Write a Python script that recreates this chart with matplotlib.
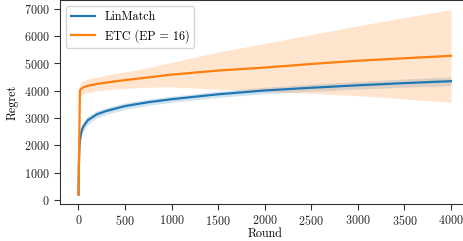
import matplotlib
matplotlib.use("Agg")
import matplotlib.pyplot as plt
import numpy as np

plt.rcParams['font.family'] = ['cmr10', 'DejaVu Serif']
plt.rcParams['mathtext.fontset'] = 'cm'
plt.rcParams['axes.formatter.use_mathtext'] = True
plt.rcParams['font.size'] = 8.7

# LinMatch (mean and spread)
lin_x = np.array([1, 5, 10, 16, 30, 50, 100, 200, 300, 500, 750, 1000, 1500, 2000, 2500, 3000, 3500, 4000])
lin_mean = np.array([200, 1300, 1950, 2200, 2480, 2680, 2920, 3140, 3260, 3440, 3580, 3690, 3870, 4010, 4110, 4200, 4280, 4350])
lin_std = np.array([0, 150, 200, 200, 180, 170, 150, 130, 125, 120, 115, 110, 115, 120, 130, 140, 150, 160])

# ETC (EP = 16)
etc_x = np.array([1, 16, 20, 50, 100, 200, 300, 500, 750, 1000, 1500, 2000, 2500, 3000, 3500, 4000])
etc_mean = np.array([200, 4000, 4040, 4120, 4180, 4250, 4300, 4390, 4490, 4590, 4740, 4850, 4980, 5100, 5190, 5280])
etc_std = np.array([0, 230, 235, 240, 245, 255, 270, 300, 360, 450, 680, 880, 1080, 1280, 1490, 1700])

fig = plt.figure(figsize=(4.64, 2.41), dpi=100)
ax = fig.add_axes([0.1289, 0.1544, 0.8832, 0.8452])

ax.plot(lin_x, lin_mean, color='#1f77b4', lw=1.6, label='LinMatch')
ax.fill_between(lin_x, lin_mean - lin_std, lin_mean + lin_std, color='#1f77b4', alpha=0.2, lw=0)
ax.plot(etc_x, etc_mean, color='#ff7f0e', lw=1.6, label='ETC (EP = 16)')
ax.fill_between(etc_x, etc_mean - etc_std, etc_mean + etc_std, color='#ff7f0e', alpha=0.2, lw=0)

ax.set_xlim(-200, 4200)
ax.set_ylim(-140, 7320)
ax.set_xticks(np.arange(0, 4001, 500))
ax.set_yticks(np.arange(0, 7001, 1000))
ax.set_xlabel('Round', labelpad=0)
ax.set_ylabel('Regret')
for s in ax.spines.values():
    s.set_color('#333333')
ax.tick_params(colors='#333333', labelcolor='#262626', length=4)
ax.legend(loc='upper left', framealpha=0.8, edgecolor='#cccccc')

fig.savefig('out.png', dpi=100)
